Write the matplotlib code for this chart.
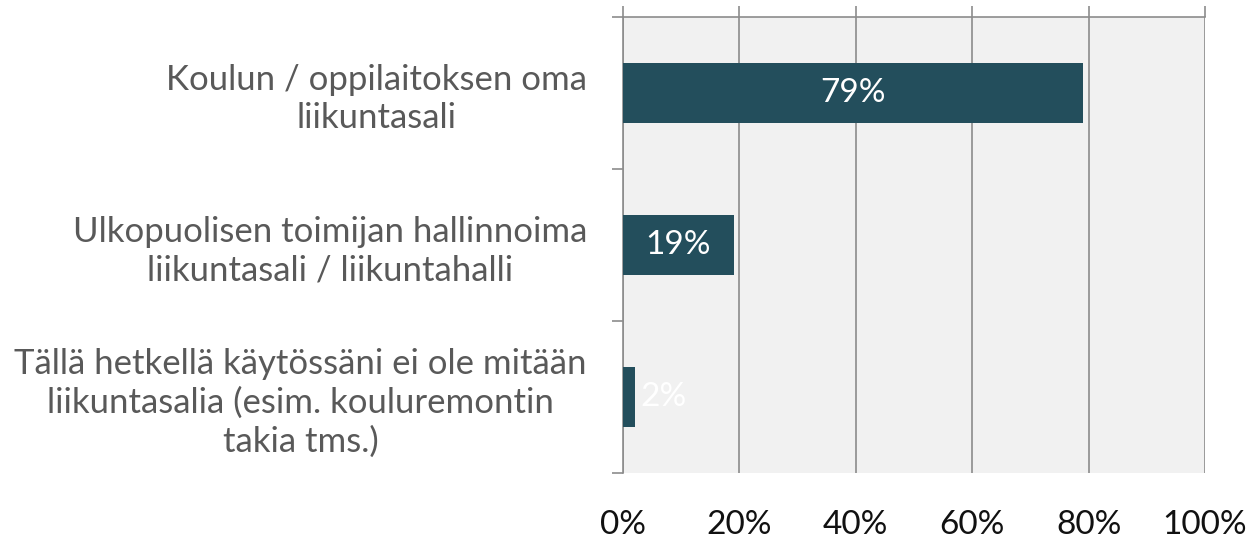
import matplotlib.pyplot as plt
import numpy as np

# kategoriat ja arvot (%)
categories = ['Koulun / oppilaitoksen oma\nliikuntasali',
              'Ulkopuolisen toimijan hallinnoima\nliikuntasali / liikuntahalli',
              'Tällä hetkellä käytössäni ei ole mitään\nliikuntasalia (esim. kouluremontin\ntakia tms.)']
values = [79, 19, 2]
xticks = [0, 20, 40, 60, 80, 100]
xtick_labels = ['0%', '20%', '40%', '60%', '80%', '100%']

plt.rcParams['font.family'] = ['Lato', 'DejaVu Sans']

fig = plt.figure(figsize=(12.53, 5.4), dpi=100)
ax = fig.add_axes([623 / 1253, 1 - 473 / 540, 582 / 1253, 456 / 540])
ax.set_facecolor('#f1f1f1')

y = np.arange(len(categories))
bars = ax.barh(y, values, height=0.4, color='#234e5c', zorder=3)

for b, v in zip(bars, values):
    cy = b.get_y() + b.get_height() / 2
    if v >= 10:
        ax.text(v / 2, cy, f'{v}%', ha='center', va='center',
                color='white', fontsize=24, zorder=4)
    else:
        ax.annotate(f'{v}%', (v, cy), xytext=(4, 0), textcoords='offset points',
                    ha='left', va='center', color='white', fontsize=24, zorder=4)

ax.set_xlim(0, 100)
ax.set_ylim(2.5, -0.5)

# pystyviivat
ax.set_xticks(xticks)
ax.set_xticklabels(xtick_labels, fontsize=24, color='#111111')
ax.grid(axis='x', color='#8c8c8c', linewidth=1.2, zorder=1)
ax.tick_params(axis='x', top=True, bottom=False, labeltop=False, labelbottom=True,
               direction='out', length=8, width=1.2, color='#8c8c8c', pad=19)

# y-akseli: nimet keskelle, tikit rajoille
ax.set_yticks(y)
ax.set_yticklabels(categories, fontsize=25, color='#595959')
for lbl in ax.get_yticklabels():
    lbl.set_multialignment('center')
    lbl.set_linespacing(1.25)
ax.set_yticks(np.arange(-0.5, len(categories), 1), minor=True)
ax.tick_params(axis='y', which='major', length=0, pad=26)
ax.tick_params(axis='y', which='minor', length=8, width=1.2, color='#8c8c8c')

for s in ['right', 'bottom']:
    ax.spines[s].set_visible(False)
for s in ['top', 'left']:
    ax.spines[s].set_color('#8c8c8c')
    ax.spines[s].set_linewidth(1.2)

fig.savefig('out.png', dpi=100)
